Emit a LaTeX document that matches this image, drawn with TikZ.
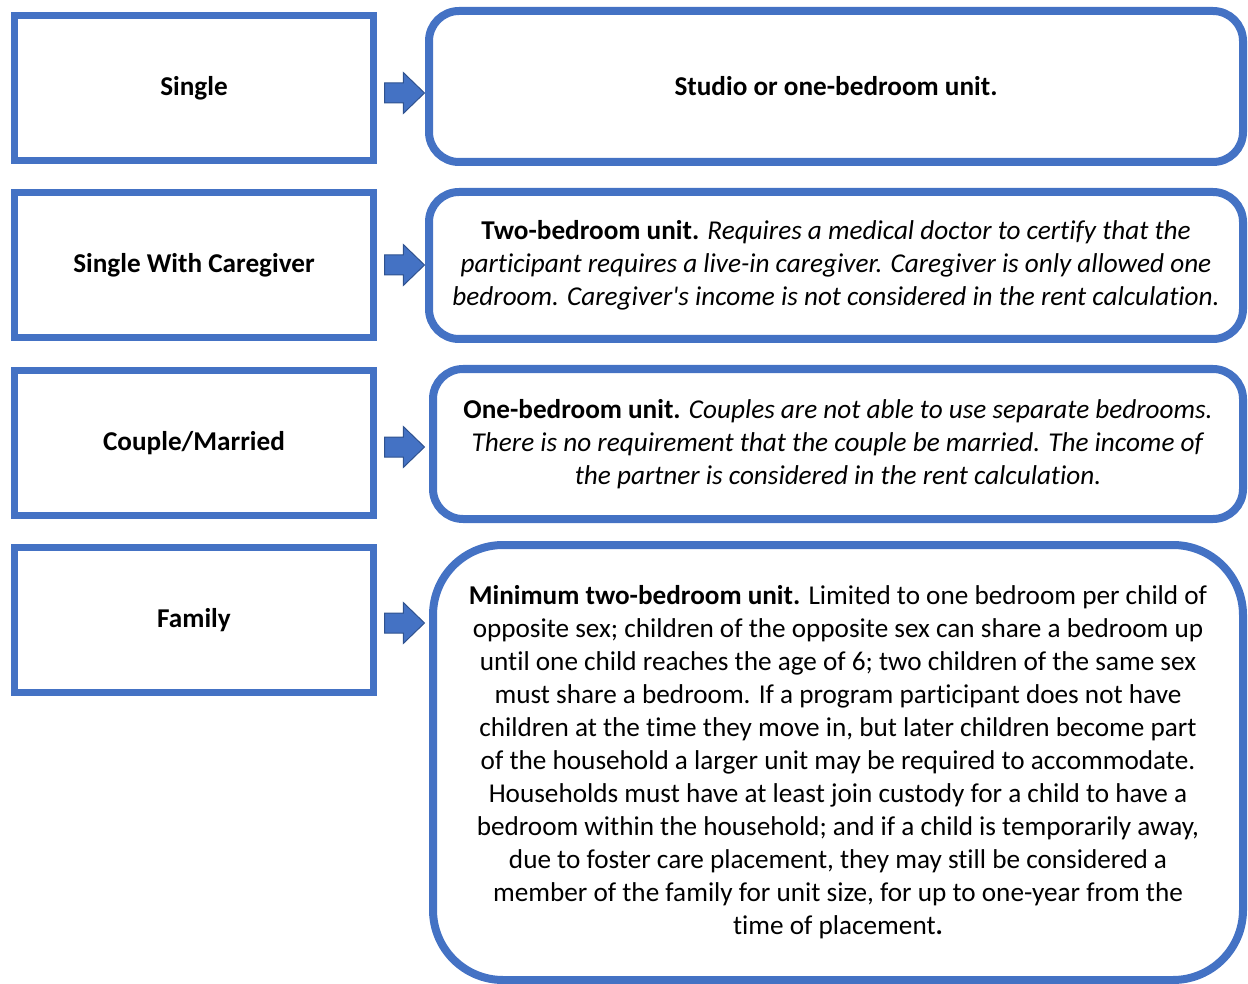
\documentclass[tikz,border=0pt]{standalone}
\usepackage{fontspec}
\setmainfont{Carlito}[Ligatures={TeXOff,NoCommon}]
\usetikzlibrary{shapes.arrows}
\definecolor{boxblue}{HTML}{4472C4}
\definecolor{arrowedge}{HTML}{2F528F}
\tikzset{
  leftbox/.style={draw=boxblue, line width=3.5pt, rectangle, minimum width=179.5pt, minimum height=72.5pt, inner sep=0pt, align=center, font=\fontsize{13.6pt}{16.5pt}\selectfont\bfseries},
  rightbox/.style={draw=boxblue, line width=4pt, rectangle, rounded corners=15pt, inner sep=0pt, align=center, font=\fontsize{13.6pt}{16.5pt}\selectfont},
  blockarrow/.style={single arrow, draw=arrowedge, fill=boxblue, line width=0.5pt, inner sep=4.75pt, single arrow head extend=5.25pt, minimum height=20pt, single arrow tip angle=88, anchor=tail}
}
\begin{document}
\begin{tikzpicture}[x=0.5pt,y=-0.5pt]
\useasboundingbox (0,0) rectangle (1248,984);
% left boxes
\node[leftbox] (l1) at (194,88) {Single};
\node[leftbox] (l2) at (194,265) {Single With Caregiver};
\node[leftbox] (l3) at (194,443) {Couple/Married};
\node[leftbox] (l4) at (194,620) {Family};
% right boxes
\node[rightbox, minimum width=407pt, minimum height=75.5pt] (r1) at (836,86.5) {\textbf{Studio or one-bedroom unit.}};
\node[rightbox, minimum width=407pt, minimum height=73.5pt] (r2) at (836,265.5) {\textbf{Two-bedroom unit.} \textit{Requires a medical doctor to certify that the}\\ \textit{participant requires a live-in caregiver. Caregiver is only allowed one}\\ \textit{bedroom. Caregiver's income is not considered in the rent calculation.}};
\node[rightbox, minimum width=405pt, minimum height=75pt] (r3) at (838,444) {\textbf{One-bedroom unit.} \textit{Couples are not able to use separate bedrooms.}\\ \textit{There is no requirement that the couple be married. The income of}\\ \textit{the partner is considered in the rent calculation.}};
\node[rightbox, rounded corners=35pt, minimum width=405pt, minimum height=217.5pt] (r4) at (838,762.5) {\textbf{Minimum two-bedroom unit.} Limited to one bedroom per child of\\ opposite sex; children of the opposite sex can share a bedroom up\\ until one child reaches the age of 6; two children of the same sex\\ must share a bedroom. If a program participant does not have\\ children at the time they move in, but later children become part\\ of the household a larger unit may be required to accommodate.\\ Households must have at least join custody for a child to have a\\ bedroom within the household; and if a child is temporarily away,\\ due to foster care placement, they may still be considered a\\ member of the family for unit size, for up to one-year from the\\ time of placement\textbf{.}};
% block arrows
\node[blockarrow] (a1) at (384,93) {};
\node[blockarrow] (a2) at (384,265) {};
\node[blockarrow] (a3) at (384,447) {};
\node[blockarrow] (a4) at (384,623) {};
\end{tikzpicture}
\end{document}
